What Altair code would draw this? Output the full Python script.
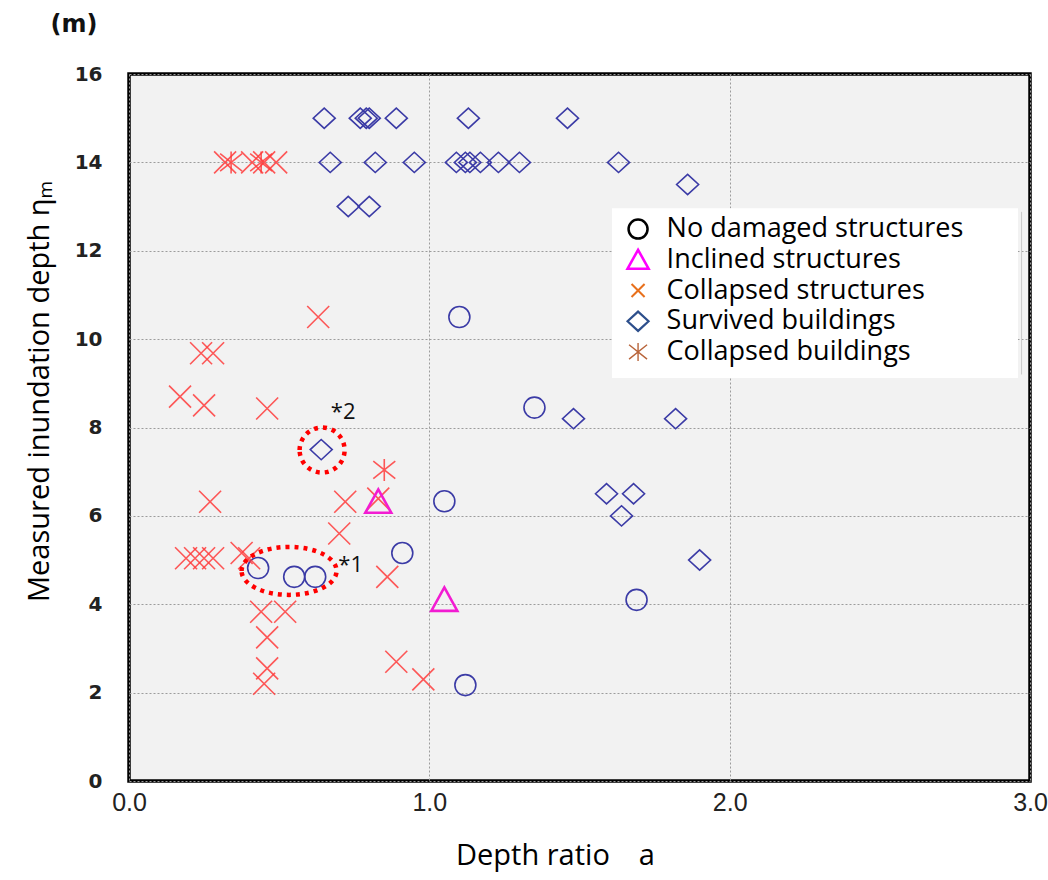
import altair as alt
import pandas as pd

# ---------------- data ----------------
no_damage_a = [1.10, 1.35, 1.05, 0.91, 0.43, 0.55, 0.62, 1.69, 1.12]
no_damage_h = [10.5, 8.45, 6.33, 5.16, 4.82, 4.62, 4.62, 4.10, 2.17]

inclined_a = [0.83, 1.05]
inclined_h = [6.32, 4.10]

collapsed_s_a = [0.32, 0.41, 0.45, 0.49, 0.63, 0.24, 0.28, 0.17, 0.25, 0.46,
                 0.27, 0.72, 0.83, 0.70, 0.19, 0.22, 0.25, 0.28, 0.375, 0.40,
                 0.86, 0.44, 0.52, 0.46, 0.46, 0.45, 0.89, 0.98]
collapsed_s_h = [14.0, 14.0, 14.0, 14.0, 10.5, 9.68, 9.68, 8.70, 8.50, 8.43,
                 6.32, 6.32, 6.39, 5.60, 5.04, 5.04, 5.04, 5.04, 5.16, 5.04,
                 4.62, 3.83, 3.83, 3.25, 2.55, 2.20, 2.70, 2.30]

survived_a = [0.65, 0.77, 0.79, 0.80, 0.89, 1.13, 1.46,
              0.67, 0.82, 0.95, 1.09, 1.12, 1.135, 1.17, 1.23, 1.30, 1.63,
              1.86, 0.73, 0.80, 0.64, 1.48, 1.82, 1.59, 1.68, 1.64, 1.90]
survived_h = [15, 15, 15, 15, 15, 15, 15,
              14, 14, 14, 14, 14, 14, 14, 14, 14, 14,
              13.5, 13, 13, 7.5, 8.2, 8.2, 6.5, 6.5, 6.0, 5.0]

collapsed_b_a = [0.34, 0.44, 0.85]
collapsed_b_h = [14.0, 14.0, 7.04]

legend_labels = ["No damaged structures", "Inclined structures",
                 "Collapsed structures", "Survived buildings", "Collapsed buildings"]

# annotation targets (*1 group of circles, *2 diamond)
note_labels = ["*1", "*2"]
note_a = [0.533, 0.643]
note_h = [4.755, 7.49]

# ---------------- shapes & styles ----------------
X_PATH = "M-1,-1L1,1M-1,1L1,-1"
AST_PATH = "M-1,-0.8L1,0.8M-1,0.8L1,-0.8M0,-1L0,1"
DIAMOND_PATH = "M0,-0.92L1,0L0,0.92L-1,0Z"
TRI_PATH = "M0,-0.95L1,0.85L-1,0.85Z"
CIRCLE_PATH = "M-1,0C-1,-0.5523,-0.5523,-1,0,-1C0.5523,-1,1,-0.5523,1,0C1,0.5523,0.5523,1,0,1C-0.5523,1,-1,0.5523,-1,0Z"
ELLIPSE_PATH = "M-1,0C-1,-0.279,-0.5523,-0.505,0,-0.505C0.5523,-0.505,1,-0.279,1,0C1,0.279,0.5523,0.505,0,0.505C-0.5523,0.505,-1,0.279,-1,0Z"

NAVY = "#3b3ba6"
RED = "#ff3c3c"
MAGENTA = "#f21cd2"

xscale = alt.Scale(domain=[0, 3], nice=False, zero=False)
yscale = alt.Scale(domain=[0, 16], nice=False, zero=False)
xaxis = alt.Axis(values=[0, 1, 2, 3], format=".1f", title="Depth ratio\u3000a",
                 titleX=426, titleY=74, titleBaseline="middle", titleAlign="center",
                 labelFlush=False)
yaxis = alt.Axis(values=list(range(0, 17, 2)), format="d",
                 title="Measured inundation depth  \u03b7\u2098",
                 titleAngle=270, titleX=-90, titleY=317, titleAlign="center",
                 titleBaseline="middle", labelFlush=False)


def enc(ch):
    return ch.encode(
        x=alt.X("a:Q", scale=xscale, axis=xaxis),
        y=alt.Y("h:Q", scale=yscale, axis=yaxis),
    )


def df(a, h):
    return pd.DataFrame({"a": a, "h": h})


survived = enc(alt.Chart(df(survived_a, survived_h)).mark_point(
    shape=DIAMOND_PATH, size=484, filled=False, stroke=NAVY, strokeWidth=1.6, opacity=1))
no_damage = enc(alt.Chart(df(no_damage_a, no_damage_h)).mark_point(
    shape=CIRCLE_PATH, size=441, filled=False, stroke=NAVY, strokeWidth=1.6, opacity=1))
collapsed_s = enc(alt.Chart(df(collapsed_s_a, collapsed_s_h)).mark_point(
    shape=X_PATH, size=484, filled=False, stroke=RED, strokeWidth=1.6, opacity=0.85))
collapsed_b = enc(alt.Chart(df(collapsed_b_a, collapsed_b_h)).mark_point(
    shape=AST_PATH, size=484, filled=False, stroke=RED, strokeWidth=1.6, opacity=0.85))
inclined = enc(alt.Chart(df(inclined_a, inclined_h)).mark_point(
    shape=TRI_PATH, size=676, filled=False, stroke=MAGENTA, strokeWidth=2.6, opacity=1))

# dotted annotation rings
ring1 = enc(alt.Chart(df([note_a[0]], [note_h[0]])).mark_point(
    shape=ELLIPSE_PATH, size=9025, filled=False, stroke="#ff0000", strokeWidth=4.5,
    strokeDash=[4, 5], opacity=1))
ring2 = enc(alt.Chart(df([note_a[1]], [note_h[1]])).mark_point(
    shape=CIRCLE_PATH, size=2025, filled=False, stroke="#ff0000", strokeWidth=4.5,
    strokeDash=[4, 5], opacity=1))

note_df = pd.DataFrame({"t": note_labels, "a": [note_a[0] + 0.205, note_a[1] + 0.07],
                        "h": [note_h[0] + 0.13, note_h[1] + 0.86]})
notes = alt.Chart(note_df).mark_text(fontSize=22, font="Open Sans", color="#111",
                                     align="center", baseline="middle").encode(
    x=alt.X("a:Q", scale=xscale, axis=xaxis),
    y=alt.Y("h:Q", scale=yscale, axis=yaxis),
    text="t:N",
)

# ---------------- hand-made legend (in data units) ----------------
LG_X0, LG_X1, LG_Y0, LG_Y1 = 1.608, 2.96, 9.12, 12.96
row_top, row_step = 12.49, 0.695
sym_x, txt_x = 1.695, 1.79
rows_h = [row_top - i * row_step for i in range(len(legend_labels))]

legend_box = alt.Chart(pd.DataFrame({"a": [LG_X0], "a2": [LG_X1], "h": [LG_Y0], "h2": [LG_Y1]})).mark_rect(
    fill="white", stroke=None).encode(
    x=alt.X("a:Q", scale=xscale, axis=xaxis), x2="a2:Q",
    y=alt.Y("h:Q", scale=yscale, axis=yaxis), y2="h2:Q")

legend_edge = alt.Chart(pd.DataFrame({"a": [LG_X1 + 0.012], "h": [LG_Y0 + 0.08], "h2": [LG_Y1 - 0.08]})).mark_rule(
    color="#c8c8c8", strokeWidth=1).encode(
    x=alt.X("a:Q", scale=xscale, axis=xaxis),
    y=alt.Y("h:Q", scale=yscale, axis=yaxis), y2="h2:Q")

legend_text = alt.Chart(pd.DataFrame({"t": legend_labels, "a": [txt_x] * 5, "h": rows_h})).mark_text(
    align="left", baseline="middle", font="Open Sans", fontSize=27, color="#000").encode(
    x=alt.X("a:Q", scale=xscale, axis=xaxis),
    y=alt.Y("h:Q", scale=yscale, axis=yaxis),
    text="t:N")

leg_styles = [
    (CIRCLE_PATH, 361, "#000000", 2.5),
    (TRI_PATH, 441, "#ff00ff", 2.6),
    (X_PATH, 170, "#e8701c", 2.0),
    (DIAMOND_PATH, 441, "#2d4f8c", 2.2),
    (AST_PATH, 324, "#b8643a", 1.4),
]
legend_syms = []
for (shp, sz, col, sw), hh in zip(leg_styles, rows_h):
    legend_syms.append(enc(alt.Chart(df([sym_x], [hh])).mark_point(
        shape=shp, size=sz, filled=False, stroke=col, strokeWidth=sw, opacity=1)))

unit = alt.Chart(pd.DataFrame({"t": ["(m)"]})).mark_text(
    font="DejaVu Sans", fontWeight="bold", fontSize=24, color="#111",
    align="center", baseline="middle").encode(
    x=alt.value(-55), y=alt.value(-49), text="t:N")

chart = alt.layer(
    survived, no_damage, collapsed_s, collapsed_b, inclined,
    ring1, ring2, notes,
    legend_box, legend_edge, legend_text, *legend_syms, unit,
).properties(
    width=901, height=707,
    autosize=alt.AutoSizeParams(type="none"),
    padding={"left": 129, "top": 74, "right": 18, "bottom": 99},
    background="white",
).configure_view(
    fill="#f2f2f2", stroke="#000000", strokeWidth=3.5,
).configure_axis(
    ticks=False, domain=False, grid=True, gridColor="#9c9c9c", gridDash=[2, 2],
    gridWidth=1, titleFont="Open Sans", titleFontSize=29, titleFontWeight="normal",
    titleColor="#000",
).configure_axisX(
    labelFont="Liberation Sans", labelFontSize=25, labelColor="#222", labelPadding=9,
).configure_axisY(
    labelFont="DejaVu Sans", labelFontWeight="bold", labelFontSize=20, labelColor="#222",
    labelPadding=27,
)

chart.save("out.html", embed_options={"renderer": "svg", "actions": False})
